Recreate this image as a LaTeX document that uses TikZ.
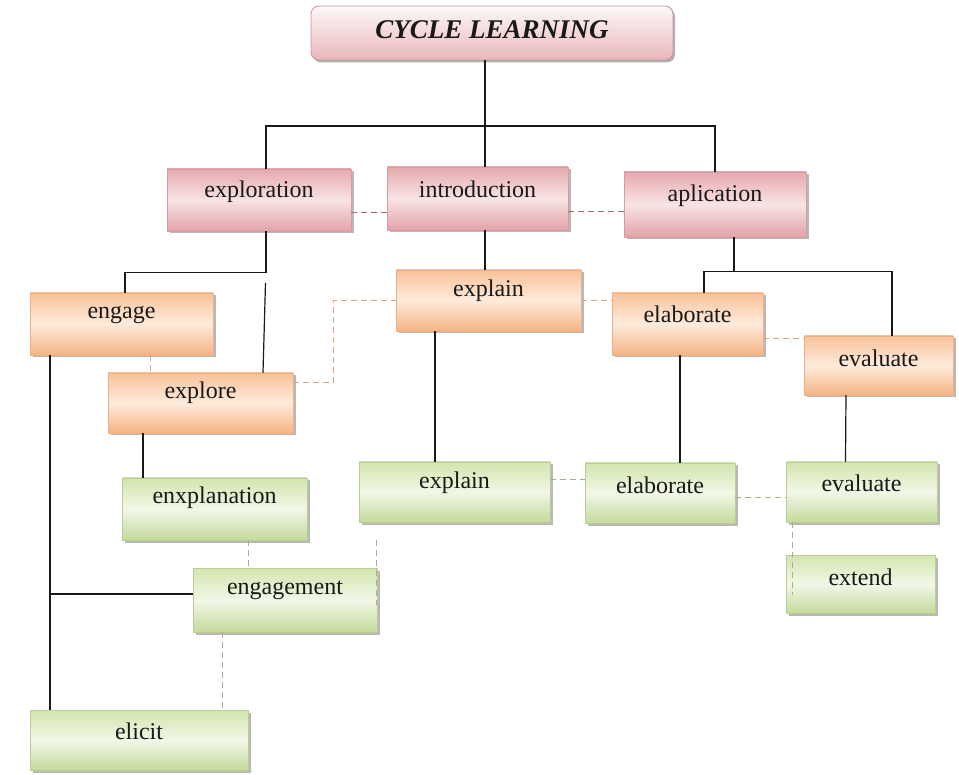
\documentclass[tikz,border=0pt]{standalone}
\usepackage{fontspec}
\setmainfont{Liberation Serif}
\usetikzlibrary{shadows}

\definecolor{pinkA}{HTML}{E6A9AE}
\definecolor{pinkB}{HTML}{F8E4E5}
\definecolor{pinkC}{HTML}{E2A2A8}
\definecolor{pinkE}{HTML}{D59CA1}
\definecolor{orA}{HTML}{F8C29A}
\definecolor{orB}{HTML}{FEEBDC}
\definecolor{orC}{HTML}{F5B382}
\definecolor{orE}{HTML}{EDB08A}
\definecolor{grA}{HTML}{D3E5AE}
\definecolor{grB}{HTML}{F2F7E7}
\definecolor{grC}{HTML}{C4DA9B}
\definecolor{grE}{HTML}{B9CF94}
\definecolor{pdashc}{HTML}{A86A6C}
\definecolor{odashc}{HTML}{D8A584}
\definecolor{gdashc}{HTML}{B2AA8C}

\tikzset{
  boxbase/.style={rectangle, inner sep=0pt, line width=0.5pt,
    drop shadow={shadow xshift=2.5pt, shadow yshift=-2.5pt, fill=black, opacity=0.28}},
  pinkbox/.style={boxbase, draw=pinkE, top color=pinkA, bottom color=pinkC, middle color=pinkB},
  orbox/.style={boxbase, draw=orE, top color=orA, bottom color=orC, middle color=orB},
  grbox/.style={boxbase, draw=grE, top color=grA, bottom color=grC, middle color=grB},
  titlebox/.style={rectangle, rounded corners=8pt, inner sep=0pt, line width=0.8pt,
    draw=pinkE!80!gray, top color=white!92!pinkA, bottom color=pinkA!85,
    drop shadow={shadow xshift=2pt, shadow yshift=-2.5pt, fill=black, opacity=0.3}},
  lift/.style={yshift=#1, font=\fontsize{24}{28}\selectfont, text=black!90},
  conn/.style={line width=1.2pt, black!90},
  pdash/.style={line width=1pt, pdashc, dash pattern=on 6pt off 4pt},
  odash/.style={line width=1pt, odashc, dash pattern=on 6pt off 4pt},
  gdash/.style={line width=1pt, gdashc, dash pattern=on 6pt off 4pt},
}

\begin{document}
\begin{tikzpicture}[x=1pt, y=-1pt]
\useasboundingbox (0,0) rectangle (959,775);

% title
\node[titlebox, minimum width=362pt, minimum height=54pt,
  label={[yshift=3pt, font=\fontsize{27}{31}\selectfont\bfseries\itshape, text=black!90]center:CYCLE LEARNING}]
  (title) at (492,33) {};

% first level
\node[pinkbox, minimum width=184pt, minimum height=62pt, label={[lift=8pt]center:exploration}] (explo) at (259,200) {};
\node[pinkbox, minimum width=181pt, minimum height=63pt, label={[lift=9.5pt]center:introduction}] (intro) at (477.5,198.5) {};
\node[pinkbox, minimum width=182pt, minimum height=65pt, label={[lift=8.5pt]center:aplication}] (aplic) at (715,204.5) {};

% second level
\node[orbox, minimum width=183pt, minimum height=62pt, label={[lift=9pt]center:engage}] (engage) at (121.5,324) {};
\node[orbox, minimum width=185pt, minimum height=60pt, label={[lift=10pt]center:explore}] (explore) at (200.5,403) {};
\node[orbox, minimum width=185pt, minimum height=61pt, label={[lift=9.5pt]center:explain}] (exo) at (488.5,300.5) {};
\node[orbox, minimum width=151pt, minimum height=62pt, label={[lift=10pt]center:elaborate}] (elao) at (687.5,324) {};
\node[orbox, minimum width=149pt, minimum height=59pt, label={[lift=7.5pt]center:evaluate}] (evao) at (878.5,365.5) {};

% third level
\node[grbox, minimum width=185pt, minimum height=62pt, label={[lift=11pt]center:enxplanation}] (enx) at (214.5,509) {};
\node[grbox, minimum width=184pt, minimum height=64pt, label={[lift=10pt]center:engagement}] (engm) at (285,600) {};
\node[grbox, minimum width=218pt, minimum height=60pt, label={[lift=9pt]center:elicit}] (elicit) at (139,740) {};
\node[grbox, minimum width=191pt, minimum height=60pt, label={[lift=9pt]center:explain}] (exg) at (454.5,492) {};
\node[grbox, minimum width=150pt, minimum height=60pt, label={[lift=8pt]center:elaborate}] (elag) at (660,493) {};
\node[grbox, minimum width=151pt, minimum height=60pt, label={[lift=9pt]center:evaluate}] (evag) at (861.5,492) {};
\node[grbox, minimum width=149pt, minimum height=58pt, label={[lift=7pt]center:extend}] (extend) at (860.5,584) {};

% solid tree connectors
\coordinate (bus1) at (485,126);
\draw[conn] ([xshift=-7pt]title.south) -- ([xshift=7.5pt]intro.north);
\draw[conn] ([xshift=7pt]explo.north) |- (bus1) -| (aplic.north);

\draw[conn] ([xshift=7pt]explo.south) -- ++(0,41) -| ([xshift=3.5pt]engage.north);
\coordinate (c1) at (265.5,283);
\draw[conn] (c1) -- ([xshift=62.5pt]explore.north);

\draw[conn] ([xshift=7.5pt]intro.south) -- ([xshift=-3.5pt]exo.north);

\draw[conn] ([xshift=19pt]aplic.south) -- ++(0,35);
\draw[conn] ([xshift=16.5pt]elao.north) -- ++(0,-21) -| ([xshift=13.5pt]evao.north);

\draw[conn] ([xshift=-53.5pt]exo.south) -- ([xshift=-19.5pt]exg.north);
\draw[conn] ([xshift=-7.5pt]elao.south) -- ([xshift=20pt]elag.north);
\draw[conn] ([xshift=-32.5pt]evao.south) -- ([xshift=-16pt]evag.north);
\draw[conn] ([xshift=-57.5pt]explore.south) -- ([xshift=-71.5pt]enx.north);

\draw[conn] ([xshift=-71.5pt]engage.south) -- ([xshift=-89pt]elicit.north);
\draw[conn] ([yshift=6pt]engm.west) -- ++(-143,0);

% dashed cross links, first level
\draw[pdash] ([yshift=-13pt]explo.east) -- ([yshift=-14.5pt]intro.west);
\draw[pdash] ([yshift=-13.5pt]intro.east) -- ([yshift=-7.5pt]aplic.west);

% dashed cross links, second level
\draw[odash] ([xshift=28.5pt]engage.south) -- ([xshift=-50.5pt]explore.north);
\draw[odash] ([yshift=20pt]explore.east) -- ++(40,0) |- ([yshift=-0.5pt]exo.west);
\draw[odash] ([yshift=-0.5pt]exo.east) -- ([yshift=23pt]elao.west);
\draw[odash] ([yshift=-15pt]elao.east) -- ([yshift=26.5pt]evao.west);

% dashed cross links, third level
\draw[gdash] ([xshift=33.5pt]enx.south) -- ([xshift=-37pt]engm.north);
\draw[gdash] ([xshift=-63pt]engm.south) -- ([xshift=83pt]elicit.north);
\draw[gdash] ([xshift=-78.5pt, yshift=-18pt]exg.south) -- ++(0,65);
\draw[gdash] ([yshift=12pt]exg.east) -- ([yshift=13pt]elag.west);
\draw[gdash] ([yshift=-5pt]elag.east) -- ([yshift=-6pt]evag.west);
\draw[gdash] ([xshift=-69.5pt]evag.south) -- ++(0,73);
\end{tikzpicture}
\end{document}
